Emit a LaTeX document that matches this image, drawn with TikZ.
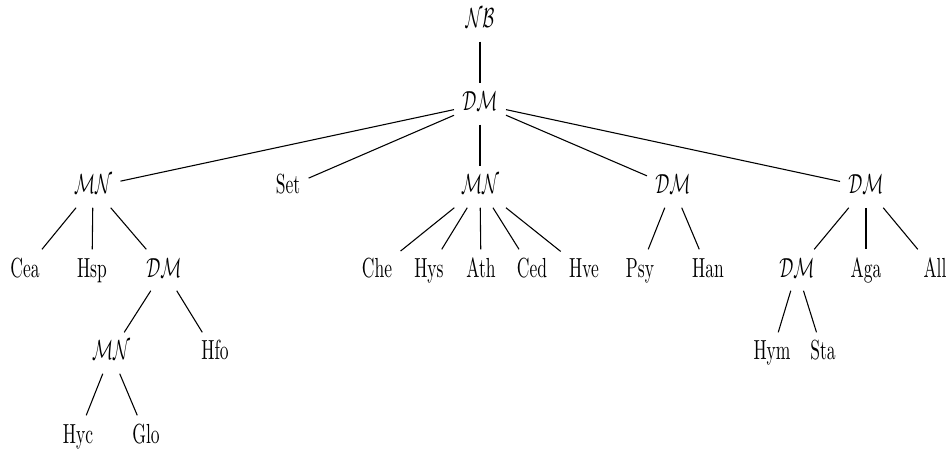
\documentclass[tikz,border=0pt]{standalone}
\usepackage{graphicx}
\newcommand\lbl[1]{\scalebox{0.73}[1.15]{#1}}
\begin{document}
\begin{tikzpicture}[x=0.4167pt,y=-0.4167pt,
  lab/.style={anchor=base, text height=8pt, text depth=2.2pt, inner sep=3.33pt},
  edge/.style={line width=0.45pt}]
\useasboundingbox (0,0) rectangle (950,453);
% row 1
\node[lab] (nb) at (480,28) {\lbl{$\mathcal{NB}$}};
% row 2
\node[lab] (dm0) at (480,111) {\lbl{$\mathcal{DM}$}};
% row 3
\node[lab] (mn1) at (93,194) {\lbl{$\mathcal{MN}$}};
\node[lab] (set) at (288,194) {\lbl{Set}};
\node[lab] (mn2) at (480,194) {\lbl{$\mathcal{MN}$}};
\node[lab] (dm3) at (673,194) {\lbl{$\mathcal{DM}$}};
\node[lab] (dm4) at (866,194) {\lbl{$\mathcal{DM}$}};
% row 4
\node[lab] (cea) at (25,277) {\lbl{Cea}};
\node[lab] (hsp) at (92,277) {\lbl{Hsp}};
\node[lab] (dm5) at (164,277) {\lbl{$\mathcal{DM}$}};
\node[lab] (che) at (377,277) {\lbl{Che}};
\node[lab] (hys) at (429,277) {\lbl{Hys}};
\node[lab] (ath) at (481,277) {\lbl{Ath}};
\node[lab] (ced) at (532,277) {\lbl{Ced}};
\node[lab] (hve) at (584,277) {\lbl{Hve}};
\node[lab] (psy) at (640,277) {\lbl{Psy}};
\node[lab] (han) at (708,277) {\lbl{Han}};
\node[lab] (dm6) at (797,277) {\lbl{$\mathcal{DM}$}};
\node[lab] (aga) at (866,277) {\lbl{Aga}};
\node[lab] (all) at (935,277) {\lbl{All}};
% row 5
\node[lab] (mn7) at (111,360) {\lbl{$\mathcal{MN}$}};
\node[lab] (hfo) at (215,360) {\lbl{Hfo}};
\node[lab] (hym) at (772,360) {\lbl{Hym}};
\node[lab] (sta) at (823,360) {\lbl{Sta}};
% row 6
\node[lab] (hyc) at (78,443) {\lbl{Hyc}};
\node[lab] (glo) at (146,443) {\lbl{Glo}};
% edges
\draw[edge] (nb) -- (dm0);
\foreach \c in {mn1,set,mn2,dm3,dm4} \draw[edge] (dm0) -- (\c);
\foreach \c in {cea,hsp,dm5} \draw[edge] (mn1) -- (\c);
\foreach \c in {che,hys,ath,ced,hve} \draw[edge] (mn2) -- (\c);
\foreach \c in {psy,han} \draw[edge] (dm3) -- (\c);
\foreach \c in {dm6,aga,all} \draw[edge] (dm4) -- (\c);
\foreach \c in {mn7,hfo} \draw[edge] (dm5) -- (\c);
\foreach \c in {hym,sta} \draw[edge] (dm6) -- (\c);
\foreach \c in {hyc,glo} \draw[edge] (mn7) -- (\c);
\end{tikzpicture}
\end{document}
